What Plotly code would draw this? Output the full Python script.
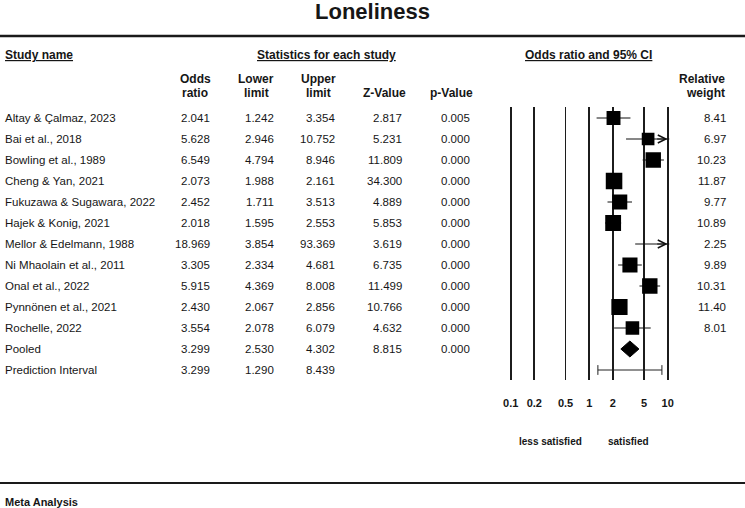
import numpy as np
import plotly.graph_objects as go

# ---------------- data ----------------
studies = ["Altay & Çalmaz, 2023", "Bai et al., 2018", "Bowling et al., 1989",
           "Cheng & Yan, 2021", "Fukuzawa & Sugawara, 2022", "Hajek & Konig, 2021",
           "Mellor & Edelmann, 1988", "Ni Mhaolain et al., 2011", "Onal et al., 2022",
           "Pynnönen et al., 2021", "Rochelle, 2022"]
odds = [2.041, 5.628, 6.549, 2.073, 2.452, 2.018, 18.969, 3.305, 5.915, 2.430, 3.554]
lower = [1.242, 2.946, 4.794, 1.988, 1.711, 1.595, 3.854, 2.334, 4.369, 2.067, 2.078]
upper = [3.354, 10.752, 8.946, 2.161, 3.513, 2.553, 93.369, 4.681, 8.008, 2.856, 6.079]
zvals = [2.817, 5.231, 11.809, 34.300, 4.889, 5.853, 3.619, 6.735, 11.499, 10.766, 4.632]
pvals = [0.005, 0.000, 0.000, 0.000, 0.000, 0.000, 0.000, 0.000, 0.000, 0.000, 0.000]
weights = [8.41, 6.97, 10.23, 11.87, 9.77, 10.89, 2.25, 9.89, 10.31, 11.40, 8.01]

pooled_label = "Pooled"
pooled_or, pooled_lo, pooled_hi, pooled_z, pooled_p = 3.299, 2.530, 4.302, 8.815, 0.000
pred_label = "Prediction Interval"
pred_or, pred_lo, pred_hi = 3.299, 1.290, 8.439

tick_vals = [0.1, 0.2, 0.5, 1, 2, 5, 10]
tick_text = ["0.1", "0.2", "0.5", "1", "2", "5", "10"]

# ---------------- layout helpers ----------------
W, H = 745, 508
FONT = "Liberation Sans, Arial, sans-serif"
TXT = "#161616"


def px(x):
    return x / W


def py(y):
    return 1 - y / H


n = len(studies)
rows = list(range(n))
pooled_row = n
pred_row = n + 1

row0_px, row_step = 118.0, 21.0
plot_top, plot_bot = 107.0, 380.0
x_lo_px, x_hi_px = 510.7, 667.7          # pixel positions of 0.1 and 10
decade_px = (x_hi_px - x_lo_px) / 2.0
pad = 0.02
xmin_log, xmax_log = np.log10(tick_vals[0]), np.log10(tick_vals[-1])

fig = go.Figure()

# CI lines
cx, cy = [], []
for i in rows:
    cx += [lower[i], upper[i], None]
    cy += [i, i, None]
fig.add_trace(go.Scatter(x=cx, y=cy, mode="lines",
                         line=dict(color="#111", width=1.2), hoverinfo="skip"))

# squares
fig.add_trace(go.Scatter(x=odds, y=rows, mode="markers", opacity=1,
                         marker=dict(symbol="square", color="black", opacity=1,
                                     size=[4.8 * np.sqrt(w) for w in weights],
                                     line=dict(width=0))))

# pooled diamond
dh = 0.38
fig.add_trace(go.Scatter(x=[pooled_lo, pooled_or, pooled_hi, pooled_or, pooled_lo],
                         y=[pooled_row, pooled_row - dh, pooled_row, pooled_row + dh, pooled_row],
                         mode="lines", fill="toself", fillcolor="black",
                         line=dict(color="black", width=1)))

# prediction interval
fig.add_trace(go.Scatter(x=[pred_lo, pred_hi], y=[pred_row, pred_row], mode="lines+markers",
                         line=dict(color="#222", width=1),
                         marker=dict(symbol="line-ns-open", size=7,
                                     line=dict(color="#222", width=1))))

ann = []

# arrows for CI's exceeding the axis
for i in rows:
    if upper[i] > tick_vals[-1]:
        ann.append(dict(x=xmax_log, y=i, xref="x", yref="y", text="", showarrow=True,
                        arrowhead=5, arrowsize=1.6, arrowwidth=1, arrowcolor="#111",
                        ax=-12, ay=0, standoff=0))

# title
ann.append(dict(x=0.5, y=py(12), xref="paper", yref="paper", text="<b>Loneliness</b>",
                showarrow=False, font=dict(family=FONT, size=22, color=TXT),
                xanchor="center", yanchor="middle"))

# section headers
hdr_font = dict(family=FONT, size=12, color=TXT)
ann.append(dict(x=px(2.5), y=py(55), xref="paper", yref="paper",
                text="<b><u>Study name</u></b>", showarrow=False, font=hdr_font,
                xanchor="left", yanchor="middle"))
ann.append(dict(x=px(326), y=py(55), xref="paper", yref="paper",
                text="<b><u>Statistics for each study</u></b>", showarrow=False, font=hdr_font,
                xanchor="center", yanchor="middle"))
ann.append(dict(x=px(588), y=py(55), xref="paper", yref="paper",
                text="<b><u>Odds ratio and 95% CI</u></b>", showarrow=False, font=hdr_font,
                xanchor="center", yanchor="middle"))

# column headers (two lines)
col_heads = [("Odds", "ratio", 195), ("Lower", "limit", 256), ("Upper", "limit", 318.5),
             ("", "Z-Value", 384), ("", "p-Value", 451)]
for top, bot, cxp in col_heads:
    if top:
        ann.append(dict(x=px(cxp), y=py(79), xref="paper", yref="paper", text=f"<b>{top}</b>",
                        showarrow=False, font=hdr_font, xanchor="center", yanchor="middle"))
    ann.append(dict(x=px(cxp), y=py(93), xref="paper", yref="paper", text=f"<b>{bot}</b>",
                    showarrow=False, font=hdr_font, xanchor="center", yanchor="middle"))
for txt, yy in (("Relative", 79), ("weight", 93)):
    ann.append(dict(x=px(727), y=py(yy), xref="paper", yref="paper", text=f"<b>{txt}</b>",
                    showarrow=False, font=hdr_font, xanchor="right", yanchor="middle"))

# table body
body_font = dict(family=FONT, size=11.5, color=TXT)
col_right = [212, 276, 337, 404, 472]


def add_row(r, label, vals, weight=None):
    ann.append(dict(x=px(2.5), y=r, xref="paper", yref="y", text=label, showarrow=False,
                    font=body_font, xanchor="left", yanchor="middle"))
    for v, xr in zip(vals, col_right):
        if v is None:
            continue
        ann.append(dict(x=px(xr), y=r, xref="paper", yref="y", text=f"{v:.3f}",
                        showarrow=False, font=body_font, xanchor="right", yanchor="middle"))
    if weight is not None:
        ann.append(dict(x=px(728), y=r, xref="paper", yref="y", text=f"{weight:.2f}",
                        showarrow=False, font=body_font, xanchor="right", yanchor="middle"))


for i in rows:
    add_row(i, studies[i], [odds[i], lower[i], upper[i], zvals[i], pvals[i]], weights[i])
add_row(pooled_row, pooled_label, [pooled_or, pooled_lo, pooled_hi, pooled_z, pooled_p])
add_row(pred_row, pred_label, [pred_or, pred_lo, pred_hi, None, None])

# direction labels
small_bold = dict(family=FONT, size=10, color=TXT)
ann.append(dict(x=px(550), y=py(441), xref="paper", yref="paper", text="<b>less satisfied</b>",
                showarrow=False, font=small_bold, xanchor="center", yanchor="middle"))
ann.append(dict(x=px(628.5), y=py(441), xref="paper", yref="paper", text="<b>satisfied</b>",
                showarrow=False, font=small_bold, xanchor="center", yanchor="middle"))

# footer
ann.append(dict(x=px(2.5), y=py(501.5), xref="paper", yref="paper", text="<b>Meta Analysis</b>",
                showarrow=False, font=dict(family=FONT, size=11, color=TXT),
                xanchor="left", yanchor="middle"))

shapes = [
    dict(type="line", xref="paper", yref="paper", x0=0, x1=1, y0=py(36), y1=py(36),
         line=dict(color="#1a1a1a", width=2.5)),
    dict(type="line", xref="paper", yref="paper", x0=0, x1=1, y0=py(483), y1=py(483),
         line=dict(color="#1a1a1a", width=2.2)),
]

fig.update_layout(
    template="none",
    width=W, height=H, margin=dict(l=0, r=0, t=0, b=0, pad=0),
    paper_bgcolor="white", plot_bgcolor="white", showlegend=False,
    annotations=ann, shapes=shapes,
    xaxis=dict(type="log", range=[xmin_log - pad, xmax_log + pad],
               domain=[px(x_lo_px - pad * decade_px), px(x_hi_px + pad * decade_px)],
               tickvals=tick_vals, ticktext=tick_text,
               tickfont=dict(family=FONT, size=11, color=TXT, weight="bold"),
               ticks="outside", ticklen=13, tickcolor="rgba(0,0,0,0)",
               showgrid=True, gridcolor="#1c1c1c", gridwidth=1.7,
               showline=False, zeroline=False, fixedrange=True),
    yaxis=dict(range=[(plot_bot - row0_px) / row_step, (plot_top - row0_px) / row_step],
               domain=[py(plot_bot), py(plot_top)],
               showgrid=False, showticklabels=False, zeroline=False, showline=False,
               ticks="", fixedrange=True),
)

fig.write_html("out.html", config={"staticPlot": True},
               post_script="document.body.style.margin='0';document.body.style.overflow='hidden';")
